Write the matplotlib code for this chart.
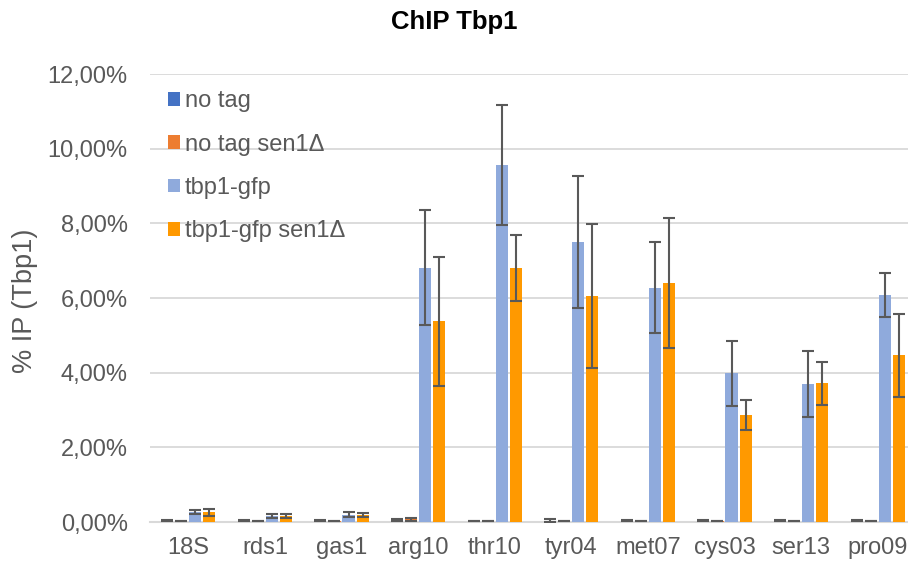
import numpy as np
import matplotlib
matplotlib.use('Agg')
import matplotlib.pyplot as plt
from matplotlib.ticker import FuncFormatter

plt.rcParams['font.family'] = ['Liberation Sans', 'DejaVu Sans']

# --- data (values in % IP) ---
genes = ['18S', 'rds1', 'gas1', 'arg10', 'thr10', 'tyr04', 'met07', 'cys03', 'ser13', 'pro09']
series = ['no tag', 'no tag sen1\u0394', 'tbp1-gfp', 'tbp1-gfp sen1\u0394']

no_tag      = [0.04, 0.04, 0.04, 0.05, 0.03, 0.04, 0.04, 0.04, 0.04, 0.04]
no_tag_err  = [0.01, 0.02, 0.01, 0.02, 0.01, 0.03, 0.01, 0.02, 0.01, 0.02]
no_tag_s    = [0.02, 0.02, 0.02, 0.08, 0.02, 0.02, 0.02, 0.02, 0.02, 0.02]
no_tag_s_err = [0.005, 0.005, 0.005, 0.04, 0.005, 0.005, 0.005, 0.005, 0.005, 0.005]
tbp1        = [0.26, 0.17, 0.20, 6.81, 9.56, 7.50, 6.27, 3.98, 3.70, 6.08]
tbp1_err    = [0.05, 0.05, 0.06, 1.54, 1.60, 1.77, 1.22, 0.87, 0.89, 0.60]
tbp1_s      = [0.26, 0.17, 0.19, 5.38, 6.81, 6.05, 6.40, 2.87, 3.71, 4.46]
tbp1_s_err  = [0.10, 0.05, 0.06, 1.73, 0.89, 1.92, 1.74, 0.41, 0.58, 1.11]

colors = ['#4472C4', '#ED7D31', '#8FAADC', '#FF9900']
vals = [no_tag, no_tag_s, tbp1, tbp1_s]
errs = [no_tag_err, no_tag_s_err, tbp1_err, tbp1_s_err]

fig = plt.figure(figsize=(9.08, 5.67), dpi=100)
# plot area runs a bit past the right edge, like the cropped original
ax = fig.add_axes([150/908, 45/567, 766/908, 448/567])

x = np.arange(len(genes))
slot = 0.183
width = 0.157
for i in range(4):
    ax.bar(x + (i - 1.5)*slot, np.array(vals[i])/100, width,
           yerr=np.array(errs[i])/100, color=colors[i], label=series[i],
           error_kw=dict(ecolor='#595959', elinewidth=1.5, capsize=4.3, capthick=1.5),
           zorder=3)

ax.set_xlim(-0.5, len(genes) - 0.5)
ax.set_ylim(0, 0.12)
ax.set_yticks(np.arange(0, 0.1201, 0.02))
ax.yaxis.set_major_formatter(FuncFormatter(lambda v, p: f'{v*100:.2f}%'.replace('.', ',')))
ax.set_xticks(x)
ax.set_xticklabels(genes)

ax.grid(axis='y', color='#d9d9d9', linewidth=1.3, zorder=0)
ax.set_axisbelow(True)
for s in ['top', 'right', 'left']:
    ax.spines[s].set_visible(False)
ax.spines['bottom'].set_color('#d9d9d9')
ax.spines['bottom'].set_linewidth(1.5)
ax.tick_params(axis='both', length=0, labelsize=17, labelcolor='#595959')
ax.tick_params(axis='y', pad=16)
ax.tick_params(axis='x', pad=11)

fig.text(0.0275, 0.469, '% IP (Tbp1)', rotation=90, ha='center', va='center',
         fontsize=19.5, color='#595959')
fig.text(0.5, 0.962, 'ChIP Tbp1', ha='center', va='center', fontsize=18.5,
         fontweight='bold', color='black')

leg = ax.legend(loc='upper left', bbox_to_anchor=(0.005, 0.995), frameon=False,
                fontsize=17, handlelength=0.52, handleheight=0.52,
                handletextpad=0.2, labelspacing=0.9, borderaxespad=0.2)
for t in leg.get_texts():
    t.set_color('#595959')

fig.savefig('out.png', dpi=100)
